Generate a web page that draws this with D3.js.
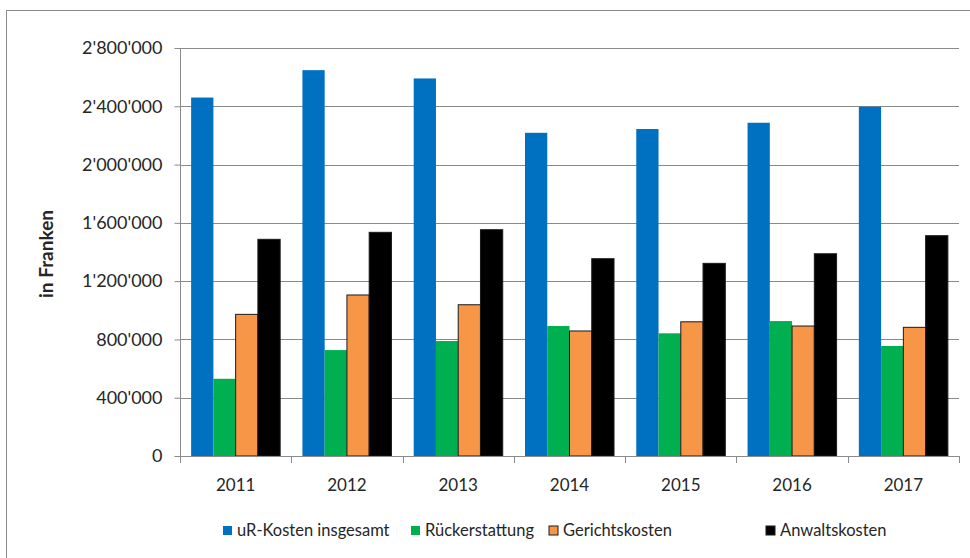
<!DOCTYPE html>
<html>
<head>
<meta charset="utf-8">
<script src="https://cdn.jsdelivr.net/npm/d3@7"></script>
<style>
  html, body { margin: 0; padding: 0; background: #fff; }
  svg { display: block; }
  text { font-family: Lato, "Open Sans", sans-serif; fill: #262626; }
</style>
</head>
<body>
<svg id="chart" width="970" height="558"></svg>
<script>
const years = ["2011", "2012", "2013", "2014", "2015", "2016", "2017"];
const seriesNames = ["uR-Kosten insgesamt", "Rückerstattung", "Gerichtskosten", "Anwaltskosten"];
const seriesColors = ["#0070C0", "#00B050", "#F79646", "#000000"];
const urKosten = [2460000, 2648000, 2591000, 2218000, 2244000, 2287000, 2397000];
const rueckerstattung = [530000, 727000, 789000, 892000, 842000, 926000, 755000];
const gerichtskosten = [972000, 1105000, 1038000, 858000, 921000, 892000, 883000];
const anwaltskosten = [1487000, 1535000, 1553000, 1354000, 1322000, 1388000, 1512000];
const yTicks = [0, 400000, 800000, 1200000, 1600000, 2000000, 2400000, 2800000];
const yTitle = "in Franken";

const seriesValues = [urKosten, rueckerstattung, gerichtskosten, anwaltskosten];

const svg = d3.select("#chart");
const pLeft = 180, pRight = 959, pTop = 48, pBottom = 456;

// outer chart border
svg.append("rect")
  .attr("x", 6.5).attr("y", 10.5).attr("width", 980).attr("height", 600)
  .attr("fill", "none").attr("stroke", "#8c8c8c").attr("stroke-width", 1);

const x = d3.scaleBand().domain(years).range([pLeft, pRight]).paddingInner(0).paddingOuter(0);
const xInner = d3.scaleBand().domain(d3.range(4)).range([0, x.bandwidth()]).paddingOuter(0.5).paddingInner(0);
const y = d3.scaleLinear().domain([0, 2800000]).range([pBottom, pTop]);

const fmt = v => d3.format(",")(v).replace(/,/g, "'");

// gridlines
svg.append("g").selectAll("line").data(yTicks.filter(d => d > 0)).join("line")
  .attr("x1", pLeft).attr("x2", pRight)
  .attr("y1", d => Math.round(y(d)) + 0.5).attr("y2", d => Math.round(y(d)) + 0.5)
  .attr("stroke", "#8a8a8a").attr("stroke-width", 1);

// bars
const groups = svg.append("g").selectAll("g").data(years).join("g")
  .attr("transform", d => `translate(${x(d)},0)`);
groups.selectAll("rect").data((yr, i) => seriesValues.map((s, k) => ({k, v: s[i]}))).join("rect")
  .attr("x", d => xInner(d.k))
  .attr("width", xInner.bandwidth())
  .attr("y", d => y(d.v))
  .attr("height", d => pBottom - y(d.v))
  .attr("fill", d => seriesColors[d.k])
  .attr("stroke", d => d.k >= 2 ? "#1a1a1a" : "none")
  .attr("stroke-width", 1);

// y axis
const yAxis = d3.axisLeft(y).tickValues(yTicks).tickSize(6).tickPadding(12).tickFormat(fmt);
const gy = svg.append("g").attr("transform", `translate(${pLeft + 0.5},0)`).call(yAxis);
gy.select(".domain").attr("stroke", "#8a8a8a").attr("d", `M0,${pTop}V${pBottom + 7}`);
gy.selectAll(".tick line").attr("stroke", "#8a8a8a");
gy.selectAll(".tick text").attr("font-size", "18px").attr("fill", "#262626")
  .style("font-family", "Lato, 'Open Sans', sans-serif");

// x axis
const xAxis = d3.axisBottom(x).tickSize(0).tickPadding(22);
const gx = svg.append("g").attr("transform", `translate(0,${pBottom + 0.5})`).call(xAxis);
gx.select(".domain").attr("stroke", "#8a8a8a").attr("d", `M${pLeft},0H${pRight}`);
gx.selectAll(".tick text").attr("font-size", "17px").attr("fill", "#262626")
  .style("font-family", "Lato, 'Open Sans', sans-serif");
// category boundary tick marks
svg.append("g").selectAll("line").data(years.concat(["end"])).join("line")
  .attr("x1", (d, i) => Math.round(i < years.length ? x(d) : pRight) + 0.5)
  .attr("x2", (d, i) => Math.round(i < years.length ? x(d) : pRight) + 0.5)
  .attr("y1", pBottom).attr("y2", pBottom + 7)
  .attr("stroke", "#8a8a8a");

// y title
svg.append("text")
  .attr("transform", `translate(53,254) rotate(-90)`)
  .attr("text-anchor", "middle")
  .attr("font-size", "19px").attr("font-weight", "bold")
  .attr("fill", "#000")
  .text(yTitle);

// legend
const legendX = [223, 411, 549, 766];
const lg = svg.append("g").selectAll("g").data(seriesNames).join("g")
  .attr("transform", (d, i) => `translate(${legendX[i]},526)`);
lg.append("rect").attr("x", 0).attr("y", 0).attr("width", 9).attr("height", 9)
  .attr("fill", (d, i) => seriesColors[i])
  .attr("stroke", (d, i) => i >= 2 ? "#1a1a1a" : "none").attr("stroke-width", 1);
lg.append("text").attr("x", 14).attr("y", 10)
  .attr("font-size", "16.5px").attr("fill", "#262626")
  .text(d => d);
</script>
</body>
</html>
